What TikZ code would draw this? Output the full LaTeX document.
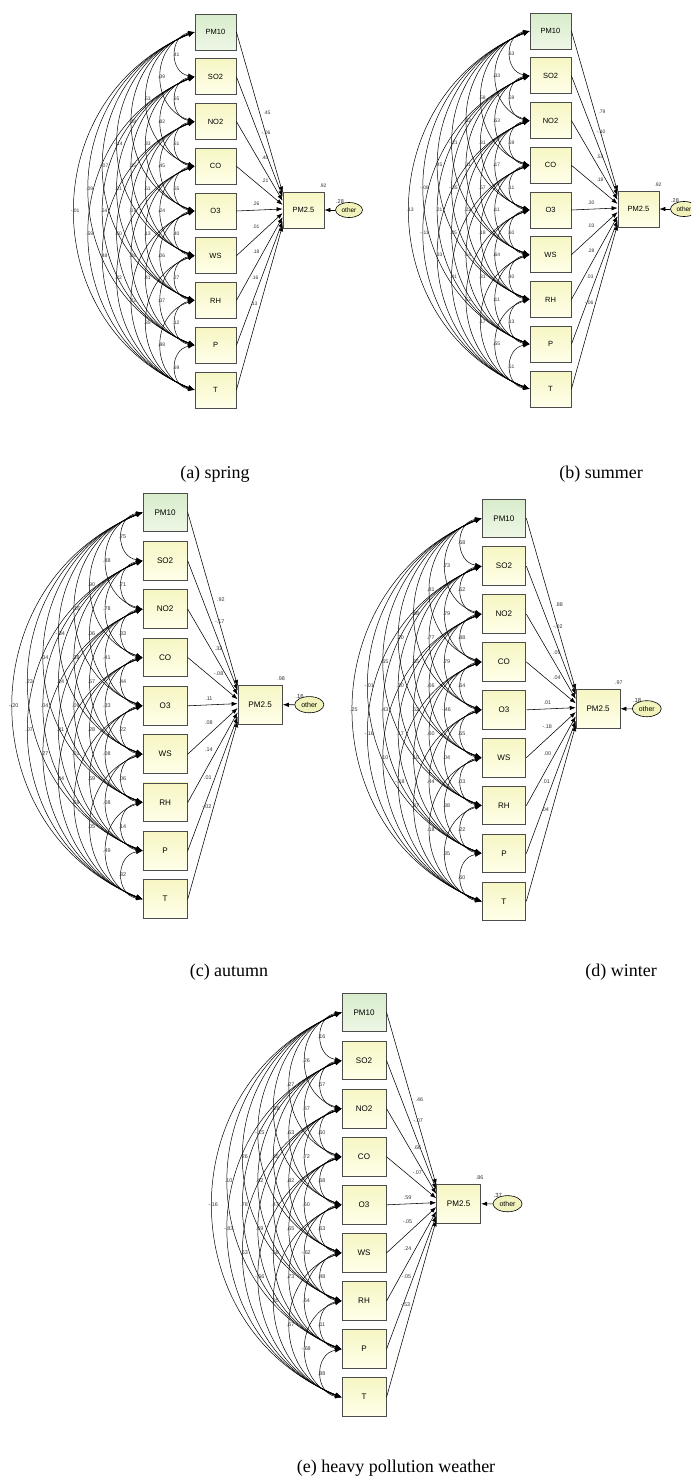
\documentclass[tikz,border=0pt]{standalone}
\usepackage{fontspec}
\setmainfont{Liberation Serif}
\setsansfont{Liberation Sans}
\usetikzlibrary{arrows.meta,shapes.geometric,calc}
\definecolor{boxtop}{HTML}{F6F6C4}
\definecolor{boxbot}{HTML}{FFFFEA}
\definecolor{greentop}{HTML}{D8ECCB}
\definecolor{greenbot}{HTML}{EEF7E6}
\definecolor{ellfill}{HTML}{F2F2BC}
\tikzset{
 var/.style={draw=black!70, line width=0.8pt, minimum width=41pt, minimum height=36pt, inner sep=0pt, top color=boxtop, bottom color=boxbot, font=\sffamily\fontsize{7.5}{8}\selectfont},
 pmvar/.style={var, top color=greentop, bottom color=greenbot},
 cov/.style={line width=0.5pt, {Latex[length=6.5pt,width=4.6pt]}-{Latex[length=6.5pt,width=4.6pt]}},
 pth/.style={line width=0.55pt, -{Latex[length=6pt,width=4.4pt]}},
 coef/.style={inner sep=0pt, text=black!80, font=\sffamily\fontsize{5}{5.5}\selectfont},
 errlab/.style={inner sep=0pt, text=black!85, font=\sffamily\fontsize{5.5}{6}\selectfont},
 errell/.style={draw, ellipse, line width=0.6pt, fill=ellfill, minimum width=27pt, minimum height=15pt, inner sep=0pt, font=\sffamily\fontsize{6.5}{7}\selectfont},
 captext/.style={inner sep=0pt, font=\fontsize{18}{20}\selectfont}
}
\newcommand\drawpanel[7]{%
\begin{scope}[shift={(#1,#2)},scale=#3,transform shape]
 \node[pmvar] (v0) at (20.5,18) {PM10};
 \foreach \nm [count=\i] in {SO2,NO2,CO,O3,WS,RH,P,T}
   \node[var] (v\i) at (20.5,{18+44.75*\i}) {\nm};
 \node[var] (pmy) at (108.5,196) {PM2.5};
 \node[errell] (err) at (154,196) {other};
 \foreach \i/\j/\lab in {#4}{
   \pgfmathsetmacro\arcD{14.4*(\j-\i)+4.6}
   \pgfmathsetmacro\arcT{2*\arcD/(44.75*(\j-\i))}
   \pgfmathsetmacro\arcCx{4*\arcD/3}
   \pgfmathsetmacro\arcCy{\arcCx*(1-\arcT*\arcT)/(2*\arcT)}
   \pgfmathsetmacro\labY{18+22.375*(\i+\j)}
   \draw[cov] (v\i.west) .. controls +(-\arcCx,\arcCy) and +(-\arcCx,-\arcCy) .. (v\j.west);
   \node[coef] at (-\arcD,\labY) {\lab};
 }
 \foreach \lab [count=\n from 0] in {#5}{
   \pgfmathsetmacro\px{{72,71,70,70,61,61,61,60,59}[\n]}
   \pgfmathsetmacro\py{{99,119,144,167,190,213,238,264,290}[\n]}
   \draw[pth] (v\n.east) -- ($(pmy.north west)!{(1+4*\n)/36}!(pmy.south west)$);
   \node[coef] at (\px,\py) {\lab};
 }
 \draw[pth] (err) -- (pmy);
 \node[coef] at (128,172) {#6};
 \node[errlab] at (145,188) {#7};
\end{scope}}
\begin{document}
\begin{tikzpicture}[x=1pt,y=-1pt]
\useasboundingbox (0,0) rectangle (691,1481);
\clip (0,0) rectangle (691,1481);
% (a) spring
\drawpanel{195}{14}{1}{%
0/1/.41, 0/2/.39, 0/3/.53, 0/4/.08, 0/5/-.14, 0/6/-.07, 0/7/.09, 0/8/-.01,
1/2/.65, 1/3/.82, 1/4/.33, 1/5/.35, 1/6/.01, 1/7/.54, 1/8/.59,
2/3/.61, 2/4/.45, 2/5/.61, 2/6/.07, 2/7/.50, 2/8/.48,
3/4/.55, 3/5/.24, 3/6/.13, 3/7/.28, 3/8/.22,
4/5/.40, 4/6/.06, 4/7/.41, 4/8/.72,
5/6/.27, 5/7/.37, 5/8/.35,
6/7/.12, 6/8/.98,
7/8/.69}{.45,-.06,.40,.21,.26,.01,.18,.16,.13}{.92}{.28}
% (b) summer
\drawpanel{530}{13}{1}{%
0/1/.63, 0/2/.33, 0/3/.58, 0/4/.52, 0/5/-.21, 0/6/.45, 0/7/-.08, 0/8/.13,
1/2/.59, 1/3/.53, 1/4/.31, 1/5/.11, 1/6/-.35, 1/7/.21, 1/8/-.11,
2/3/.59, 2/4/.17, 2/5/.57, 2/6/.22, 2/7/.25, 2/8/.33,
3/4/.11, 3/5/.11, 3/6/.18, 3/7/.14, 3/8/.41,
4/5/.60, 4/6/.64, 4/7/.31, 4/8/.52,
5/6/.40, 5/7/.11, 5/8/.17,
6/7/.13, 6/8/.55,
7/8/.51}{.79,-.10,.53,.18,.30,.03,.28,.03,-.06}{.92}{.28}
% (c) autumn
\drawpanel{143}{493}{1.08}{%
0/1/.75, 0/2/.88, 0/3/.90, 0/4/-.16, 0/5/-.34, 0/6/.04, 0/7/.23, 0/8/-.20,
1/2/.71, 1/3/.78, 1/4/.06, 1/5/.38, 1/6/.14, 1/7/.04, 1/8/.07,
2/3/.33, 2/4/.41, 2/5/.57, 2/6/.09, 2/7/.31, 2/8/.27,
3/4/.44, 3/5/.33, 3/6/.28, 3/7/.01, 3/8/.04,
4/5/.22, 4/6/.08, 4/7/.59, 4/8/.69,
5/6/.06, 5/7/.08, 5/8/.05,
6/7/.14, 6/8/.49,
7/8/.82}{.92,-.17,.32,-.08,.11,.08,.14,.01,-.02}{.98}{.16}
% (d) winter
\drawpanel{482}{499}{1.07}{%
0/1/.58, 0/2/.73, 0/3/.81, 0/4/.48, 0/5/.20, 0/6/.65, 0/7/-.01, 0/8/.25,
1/2/.62, 1/3/.79, 1/4/.77, 1/5/.55, 1/6/.30, 1/7/.43, 1/8/-.16,
2/3/.88, 2/4/.79, 2/5/.66, 2/6/.52, 2/7/.17, 2/8/.10,
3/4/.64, 3/5/-.46, 3/6/.60, 3/7/.10, 3/8/-.18,
4/5/.55, 4/6/.04, 4/7/.44, 4/8/.37,
5/6/.03, 5/7/.38, 5/8/.18,
6/7/.22, 6/8/.35,
7/8/.60}{.88,-.02,.05,.04,.01,-.18,.00,.01,.04}{.97}{.18}
% (e) heavy pollution weather
\drawpanel{342}{993}{1.075}{%
0/1/.16, 0/2/.26, 0/3/.27, 0/4/-.28, 0/5/-.15, 0/6/.26, 0/7/.10, 0/8/-.16,
1/2/.57, 1/3/.67, 1/4/.63, 1/5/.55, 1/6/.42, 1/7/.78, 1/8/-.83,
2/3/.60, 2/4/.72, 2/5/.82, 2/6/.47, 2/7/.69, 2/8/.63,
3/4/.68, 3/5/.60, 3/6/.65, 3/7/.58, 3/8/-.56,
4/5/.63, 4/6/-.62, 4/7/.73, 4/8/.85,
5/6/.48, 5/7/.64, 5/8/.57,
6/7/.11, 6/8/-.68,
7/8/.88}{.46,-.07,.66,-.07,.59,-.05,.24,-.05,-.53}{.86}{.37}
% captions
\node[captext] (capa) at (215,474) {(a) spring};
\node[captext] (capb) at (601,474) {(b) summer};
\node[captext] (capc) at (229,972) {(c) autumn};
\node[captext] (capd) at (621,972) {(d) winter};
\node[captext] (cape) at (396,1468) {(e) heavy pollution weather};
\end{tikzpicture}
\end{document}
